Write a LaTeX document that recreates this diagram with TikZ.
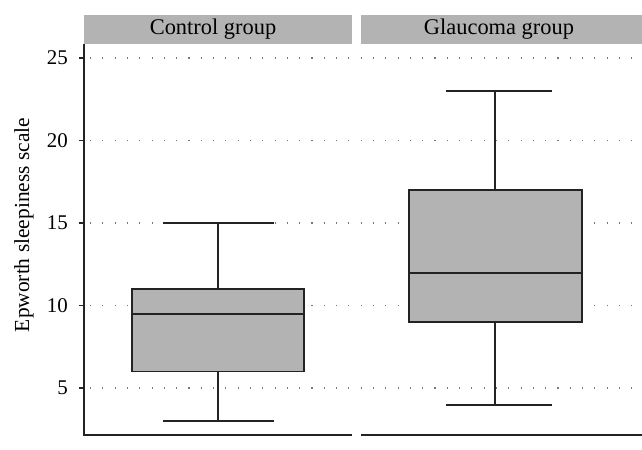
\documentclass[tikz,border=0pt]{standalone}
\usepackage{fontspec}
\setmainfont{Liberation Serif}
\definecolor{boxgray}{RGB}{179,179,179}
\definecolor{linec}{RGB}{35,35,35}
\definecolor{gridc}{RGB}{120,120,120}
\begin{document}
\begin{tikzpicture}[x=1bp,y=-1bp,
  axisline/.style={draw=linec,line width=1.5bp},
  gridline/.style={draw=gridc,line width=1.1bp,dash pattern=on 1.1bp off 11.2bp},
  boxstyle/.style={draw=linec,fill=boxgray,line width=1.6bp},
  whisk/.style={draw=linec,line width=1.6bp},
  strip/.style={fill=boxgray,draw=none},
  striptext/.style={font=\fontsize{22.5}{26}\selectfont,text=black},
  ticklab/.style={font=\fontsize{21}{24}\selectfont,anchor=east,inner sep=0pt},
]
\useasboundingbox (0,0) rectangle (642,450);
% strips
\fill[strip] (84,15) rectangle (352,44);
\fill[strip] (361,15) rectangle (642,44);
\node[striptext] (st1) at (213,29) {Control group};
\node[striptext] (st2) at (499,29) {Glaucoma group};
% grid lines
\foreach \v in {5,10,15,20,25}{
  \draw[gridline] (90,{388-(\v-5)*16.5}) -- (642,{388-(\v-5)*16.5});
}
% axes
\draw[axisline] (84,44) -- (84,435) -- (352,435);
\draw[axisline] (361,435) -- (642,435);
\foreach \v in {5,10,15,20,25}{
  \draw[axisline] (79,{388-(\v-5)*16.5}) -- (84,{388-(\v-5)*16.5});
  \node[ticklab] (t\v) at (68,{388-(\v-5)*16.5}) {\v};
}
\node[font=\fontsize{21.5}{24}\selectfont,rotate=90] (ylab) at (24,225) {Epworth sleepiness scale};
% control group: min 3, q1 6, med 9.5, q3 11, max 15
\draw[whisk] (218,223) -- (218,289);
\draw[whisk] (218,371.5) -- (218,421);
\draw[whisk] (163,223) -- (274,223);
\draw[whisk] (163,421) -- (274,421);
\draw[boxstyle] (132,371.5) rectangle (304,289);
\draw[whisk] (132,314) -- (304,314);
% glaucoma group: min 4, q1 9, med 12, q3 17, max 23
\draw[whisk] (495,91) -- (495,190);
\draw[whisk] (495,322) -- (495,405);
\draw[whisk] (446,91) -- (552,91);
\draw[whisk] (446,405) -- (552,405);
\draw[boxstyle] (409,322) rectangle (582,190);
\draw[whisk] (409,273) -- (582,273);
\end{tikzpicture}
\end{document}
